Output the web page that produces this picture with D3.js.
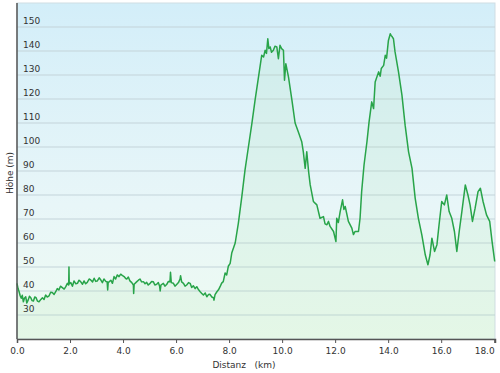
<!DOCTYPE html>
<html>
<head>
<meta charset="utf-8">
<script src="https://cdn.jsdelivr.net/npm/d3@7"></script>
<style>
  body { margin: 0; background: #fff; }
  text { font-family: "DejaVu Sans", Verdana, sans-serif; fill: #333; }
</style>
</head>
<body>
<div class="chart"></div>
<script>
// distance (km) and elevation (m)
const dist = [0.00,0.04,0.08,0.12,0.16,0.20,0.24,0.28,0.33,0.37,0.42,0.47,0.52,0.57,0.62,0.67,0.72,0.77,0.83,0.90,
  0.96,1.02,1.08,1.14,1.21,1.27,1.33,1.40,1.46,1.52,1.58,1.64,1.71,1.78,1.84,1.90,1.95,1.96,1.97,2.03,
  2.09,2.15,2.22,2.28,2.34,2.40,2.47,2.53,2.59,2.65,2.72,2.78,2.85,2.91,2.97,3.03,3.10,3.16,3.22,3.28,
  3.35,3.40,3.42,3.44,3.54,3.60,3.66,3.72,3.78,3.85,3.91,3.97,4.04,4.10,4.14,4.20,4.26,4.33,4.39,4.40,
  4.42,4.52,4.58,4.64,4.70,4.77,4.83,4.89,4.95,5.02,5.08,5.14,5.20,5.27,5.33,5.38,5.40,5.43,5.52,5.58,
  5.65,5.71,5.77,5.79,5.82,5.90,5.96,6.03,6.09,6.15,6.17,6.21,6.28,6.34,6.40,6.47,6.53,6.59,6.65,6.72,
  6.78,6.85,6.91,6.97,7.03,7.10,7.16,7.22,7.28,7.35,7.41,7.43,7.47,7.54,7.60,7.66,7.72,7.78,7.85,7.91,
  7.97,8.04,8.10,8.23,8.35,8.48,8.60,8.73,8.86,8.98,9.11,9.23,9.30,9.36,9.41,9.46,9.50,9.55,9.60,9.67,
  9.73,9.80,9.86,9.92,9.98,10.05,10.09,10.14,10.24,10.37,10.49,10.62,10.74,10.80,10.87,10.93,11.00,11.06,11.18,11.31,
  11.43,11.56,11.62,11.69,11.75,11.81,11.94,12.03,12.06,12.12,12.19,12.28,12.33,12.38,12.50,12.63,12.69,12.75,12.88,12.94,
  13.00,13.09,13.20,13.28,13.38,13.45,13.51,13.64,13.70,13.74,13.83,13.89,13.94,14.01,14.08,14.11,14.16,14.20,14.26,14.39,
  14.52,14.64,14.77,14.90,15.02,15.14,15.27,15.40,15.50,15.58,15.65,15.75,15.84,15.92,16.02,16.12,16.21,16.30,16.40,16.50,
  16.59,16.68,16.78,16.91,17.01,17.09,17.18,17.28,17.39,17.48,17.58,17.71,17.83,17.92,18.02];
const elev = [43.2,41.0,39.7,38.0,37.0,38.2,35.5,37.0,37.6,35.0,36.2,37.8,37.2,36.0,35.8,37.5,37.2,35.8,35.5,36.5,
  37.2,36.5,38.3,37.5,38.0,39.5,39.4,38.6,39.7,41.0,40.4,42.0,41.4,40.8,41.8,43.2,42.5,50.0,43.0,43.5,
  42.0,44.2,43.0,43.2,44.5,43.9,42.8,44.2,43.0,43.6,45.0,44.6,43.8,45.3,44.0,44.2,45.5,44.6,43.5,45.0,
  44.0,43.9,40.4,43.5,44.5,43.2,46.0,45.0,46.7,46.0,47.0,46.5,46.0,45.2,45.0,45.8,44.2,43.5,42.5,39.0,
  42.8,43.9,44.5,45.0,43.8,43.9,43.0,43.6,42.5,43.2,44.0,43.9,42.5,42.8,43.5,42.0,40.0,42.5,43.2,42.0,
  42.8,44.0,43.9,47.8,43.5,43.2,42.0,42.8,43.5,45.0,46.4,43.8,43.2,42.0,42.5,43.5,43.2,41.5,42.2,41.0,
  41.8,40.5,39.7,39.0,38.3,39.2,37.6,38.5,38.6,37.5,37.2,36.2,38.5,39.7,40.5,41.8,43.3,43.9,47.5,46.7,
  50.3,51.5,55.8,60.0,68.3,79.3,90.4,100.1,109.8,119.5,129.2,138.2,137.5,140.3,139.0,145.1,141.0,141.7,139.5,140.3,
  142.0,141.7,136.8,142.4,141.0,140.3,127.8,134.7,129.2,119.5,110.0,106.0,102.2,98.0,91.1,98.0,89.7,84.2,77.3,75.9,
  70.3,71.0,68.0,67.6,69.0,66.9,64.8,60.6,70.3,68.5,73.1,78.0,74.0,75.2,69.0,66.2,63.5,64.8,64.8,70.3,
  81.4,92.5,102.2,110.5,118.8,116.0,127.1,131.3,129.5,132.7,134.0,138.2,137.0,144.4,147.2,146.5,145.8,145.1,139.6,131.3,
  121.6,109.1,98.0,91.1,78.6,70.3,63.4,55.1,50.9,55.1,62.0,56.5,59.3,67.6,77.3,75.9,80.0,73.1,70.3,64.8,
  56.5,64.8,73.1,84.2,80.0,75.9,69.0,74.5,81.4,82.8,77.3,71.7,69.0,60.6,52.3];

const yTicks = [30,40,50,60,70,80,90,100,110,120,130,140,150];
const xTicks = [0,2,4,6,8,10,12,14,16,18];
const xTitle = 'Distanz   (km)';
const yTitle = 'Höhe (m)';

const margin = {top:3, left:17, bottom:34, right:5};
const width = 500 - margin.left - margin.right;
const height = 373 - margin.top - margin.bottom;

const data = dist.map((d,i)=>({km:d, m:elev[i]}));

const root = d3.select('.chart')
    .append('svg')
    .attr('width', 500)
    .attr('height', 373);

const defs = root.append('defs');
const bg = defs.append('linearGradient')
    .attr('id','bg').attr('x1',0).attr('y1',0).attr('x2',0).attr('y2',1);
bg.append('stop').attr('offset','0%').attr('stop-color','#d3eef9');
bg.append('stop').attr('offset','60%').attr('stop-color','#e8f6f8');
bg.append('stop').attr('offset','100%').attr('stop-color','#eefbf1');

const svg = root.append('g')
    .attr('transform', 'translate('+margin.left+','+margin.top+')');

const xScale = d3.scaleLinear()
    .domain([0, 18.03])
    .range([0, width]);

const yScale = d3.scaleLinear()
    .domain([20, 160])
    .range([height, 0]);

svg.append('rect')
    .attr('width', width)
    .attr('height', height)
    .attr('fill', 'url(#bg)')
    .attr('stroke', '#d0dde3')
    .attr('stroke-width', 1);

// grid lines
svg.selectAll('.grid')
    .data(yTicks)
    .enter()
    .append('line')
    .attr('class','grid')
    .attr('x1', 0)
    .attr('x2', width)
    .attr('y1', d=>yScale(d))
    .attr('y2', d=>yScale(d))
    .attr('stroke', '#c3d3da')
    .attr('stroke-width', 1.2);

// area + line
const area = d3.area()
    .x(d=>xScale(d.km))
    .y0(height)
    .y1(d=>yScale(d.m));

const line = d3.line()
    .x(d=>xScale(d.km))
    .y(d=>yScale(d.m));

svg.append('path')
    .datum(data)
    .attr('d', area)
    .attr('fill', 'rgba(160,225,165,0.13)');

svg.append('path')
    .datum(data)
    .attr('d', line)
    .attr('fill', 'none')
    .attr('stroke', '#28a449')
    .attr('stroke-width', 1.5)
    .attr('stroke-linejoin', 'round');

// y labels sit inside the plot, above their grid line
svg.selectAll('.ylab')
    .data(yTicks)
    .enter()
    .append('text')
    .attr('class','ylab')
    .attr('x', 6)
    .attr('y', d=>yScale(d)-3)
    .attr('font-size', 9)
    .text(d=>d);

// axes
const xAxis = d3.axisBottom(xScale)
    .tickValues(xTicks)
    .tickSize(4)
    .tickFormat(d3.format('.1f'));

const gx = svg.append('g')
    .attr('class', 'x-axis')
    .attr('transform', `translate(0, ${height})`)
    .call(xAxis);

gx.select('.domain').attr('stroke', '#555').attr('stroke-width', 1.5);
gx.selectAll('.tick line').attr('stroke', '#555');
gx.selectAll('.tick text')
    .attr('font-size', 9)
    .attr('font-family', '"DejaVu Sans", Verdana, sans-serif')
    .attr('fill', '#333')
    .attr('dy', '0.9em');
gx.selectAll('.tick text')
    .filter(d=>d==18)
    .attr('text-anchor', 'end')
    .attr('dx', 0);

svg.append('line')
    .attr('x1', 0).attr('x2', 0)
    .attr('y1', 0).attr('y2', height)
    .attr('stroke', '#555')
    .attr('stroke-width', 1.5);

svg.append('text')
    .attr('x', width/2 - 12)
    .attr('y', height + 29)
    .attr('text-anchor', 'middle')
    .attr('font-size', 9)
    .style('white-space', 'pre')
    .text(xTitle);

svg.append('text')
    .attr('transform', 'rotate(-90)')
    .attr('x', -170)
    .attr('y', -4)
    .attr('text-anchor', 'middle')
    .attr('font-size', 9)
    .text(yTitle);
</script>
</body>
</html>
